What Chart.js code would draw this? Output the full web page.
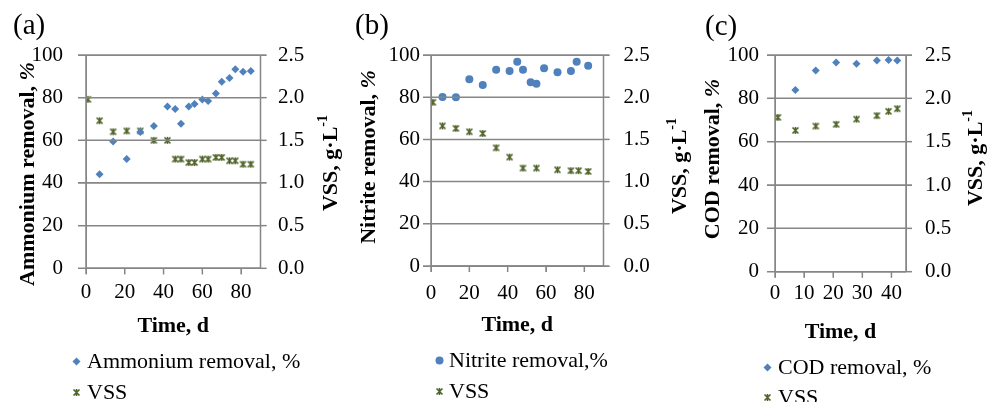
<!DOCTYPE html>
<html>
<head>
<meta charset="utf-8">
<script src="https://cdn.jsdelivr.net/npm/chart.js@4.4.1/dist/chart.umd.min.js"></script>
<style>
  html, body { margin: 0; padding: 0; background: #fff; }
  body { width: 994px; height: 402px; overflow: hidden; position: relative; }
  .chart { position: absolute; top: 0; }
  .lbl { position: absolute; font-family: 'Liberation Serif', 'Times New Roman', serif; color: #000; white-space: nowrap; line-height: 1; }
  .panel { font-size: 29px; }
  .leg { font-size: 22px; line-height: 22px; }
  .mk { position: absolute; }
</style>
</head>
<body>
<canvas id="chartA" class="chart" style="left:0px" width="345" height="402"></canvas>
<canvas id="chartB" class="chart" style="left:345px" width="355" height="402"></canvas>
<canvas id="chartC" class="chart" style="left:700px" width="294" height="402"></canvas>

<div class="lbl panel" style="left:13px; top:10px;">(a)</div>
<div class="lbl panel" style="left:355px; top:10px;">(b)</div>
<div class="lbl panel" style="left:705px; top:11px;">(c)</div>

<div id="legends"></div>

<script>
// (a) ammonium
const ammDays = [7, 14, 21, 28, 35, 42, 46, 49, 53, 56, 60, 63, 67, 70, 74, 77, 81, 85];
const ammRemoval = [44.1, 59.4, 51.3, 63.9, 66.7, 75.8, 74.7, 67.8, 75.8, 77.0, 79.1, 78.4, 82.0, 87.5, 89.2, 93.3, 92.2, 92.5];
const vssADays = [1, 7, 14, 21, 28, 35, 42, 46, 49, 53, 56, 60, 63, 67, 70, 74, 77, 81, 85];
const vssA = [1.98, 1.73, 1.60, 1.61, 1.61, 1.50, 1.50, 1.28, 1.28, 1.24, 1.24, 1.28, 1.28, 1.30, 1.30, 1.26, 1.26, 1.22, 1.22];

// (b) nitrite
const nitDays = [6, 13, 20, 27, 34, 41, 45, 48, 52, 55, 59, 66, 73, 76, 82];
const nitRemoval = [80.1, 80.0, 88.5, 85.8, 93.0, 92.4, 96.8, 93.0, 87.1, 86.4, 93.7, 91.8, 92.4, 96.8, 94.9];
const vssBDays = [1, 6, 13, 20, 27, 34, 41, 48, 55, 66, 73, 77, 82];
const vssB = [1.94, 1.66, 1.63, 1.59, 1.57, 1.40, 1.29, 1.16, 1.16, 1.14, 1.13, 1.13, 1.12];

// (c) COD
const codDays = [7, 14, 21, 28, 35, 39, 42];
const codRemoval = [83.8, 92.8, 96.5, 96.0, 97.5, 97.7, 97.5];
const vssCDays = [1, 7, 14, 21, 28, 35, 39, 42];
const vssC = [1.78, 1.63, 1.68, 1.70, 1.76, 1.80, 1.85, 1.88];

const blue = '#4F81BD';
const olive = '#4F6228';
const gridGrey = '#868686';
const serif = "'Liberation Serif', 'Times New Roman', serif";

Chart.defaults.font.family = serif;
Chart.defaults.color = '#000';

// small marker images (excel "star" is an X plus a vertical stroke)
function makeMarker(kind) {
  const c = document.createElement('canvas');
  c.width = 9; c.height = 9;
  const g = c.getContext('2d');
  if (kind === 'star') {
    g.strokeStyle = olive;
    g.lineWidth = 1.6;
    g.beginPath();
    g.moveTo(1.5, 1.5); g.lineTo(7.5, 7.5);
    g.moveTo(7.5, 1.5); g.lineTo(1.5, 7.5);
    g.moveTo(4.5, 1); g.lineTo(4.5, 8);
    g.stroke();
  } else if (kind === 'diamond') {
    g.fillStyle = blue;
    g.beginPath();
    g.moveTo(4.5, 0.5); g.lineTo(8.5, 4.5); g.lineTo(4.5, 8.5); g.lineTo(0.5, 4.5);
    g.closePath();
    g.fill();
  } else {
    g.fillStyle = blue;
    g.beginPath();
    g.arc(4.5, 4.5, 4, 0, Math.PI * 2);
    g.fill();
  }
  return c;
}

const removalTitle = name => [
  { t: name + ' removal, ', font: 'bold 22px ' + serif },
  { t: '%', font: 'italic bold 22px ' + serif }
];
const vssTitle = [
  { t: 'VSS, g·L', font: 'bold 22px ' + serif },
  { t: '-1', font: 'bold 14px ' + serif, dy: -8 }
];

// y titles read bottom-to-top on both sides, as in the original
function sideTitles(items, offset) {
  return {
    id: 'sideTitles',
    afterDraw(chart) {
      const ctx = chart.ctx;
      items.forEach(it => {
        ctx.save();
        ctx.translate(it.x - offset, it.y);
        ctx.rotate(-Math.PI / 2);
        ctx.fillStyle = '#000';
        ctx.textBaseline = 'middle';
        ctx.textAlign = 'left';
        const widths = it.segs.map(s => { ctx.font = s.font; return ctx.measureText(s.t).width; });
        let x = -widths.reduce((a, b) => a + b, 0) / 2;
        it.segs.forEach((s, i) => {
          ctx.font = s.font;
          ctx.fillText(s.t, x, s.dy || 0);
          x += widths[i];
        });
        ctx.restore();
      });
    }
  };
}

// axis lines, gridlines and tick marks, placed from the chart's own scales
function drawFrame(ch) {
  const ctx = ch.ctx;
  const a = ch.chartArea;
  const sx = ch.scales.x, sy = ch.scales.y, sy1 = ch.scales.y1;
  ctx.save();
  ctx.strokeStyle = gridGrey;
  ctx.lineWidth = 1.5;
  sy.ticks.forEach(t => {
    const py = sy.getPixelForValue(t.value);
    ctx.beginPath(); ctx.moveTo(a.left - 8, py); ctx.lineTo(a.right, py); ctx.stroke();
  });
  sy1.ticks.forEach(t => {
    const py = sy1.getPixelForValue(t.value);
    ctx.beginPath(); ctx.moveTo(a.right, py); ctx.lineTo(a.right + 6, py); ctx.stroke();
  });
  sx.ticks.forEach(t => {
    const px = sx.getPixelForValue(t.value);
    ctx.beginPath(); ctx.moveTo(px, a.bottom); ctx.lineTo(px, a.bottom + 6); ctx.stroke();
  });
  ctx.beginPath(); ctx.moveTo(a.left, a.top); ctx.lineTo(a.left, a.bottom); ctx.stroke();
  ctx.beginPath(); ctx.moveTo(a.right, a.top); ctx.lineTo(a.right, a.bottom); ctx.stroke();
  ctx.beginPath(); ctx.moveTo(a.left, a.bottom); ctx.lineTo(a.right, a.bottom); ctx.stroke();
  ctx.restore();
}

function pts(xs, ys) {
  return xs.map((x, i) => ({ x: x, y: ys[i] }));
}

function makePanel(id, p) {
  return new Chart(document.getElementById(id), {
    type: 'scatter',
    data: {
      datasets: [{
        label: p.label,
        data: pts(p.days, p.values),
        pointStyle: p.style,
        pointRadius: 4,
        borderWidth: 0,
        backgroundColor: blue,
        borderColor: blue,
        yAxisID: 'y'
      }, {
        label: 'VSS',
        data: pts(p.vssDays, p.vss),
        pointStyle: makeMarker('star'),
        backgroundColor: olive,
        borderColor: olive,
        borderWidth: 0,
        yAxisID: 'y1'
      }]
    },
    options: {
      responsive: false,
      animation: false,
      events: [],
      layout: { padding: { left: 0, right: 0, top: 55, bottom: 0 } },
      plugins: { tooltip: { enabled: false }, legend: { display: false } },
      scales: {
        x: {
          type: 'linear',
          position: 'bottom',
          min: 0,
          max: p.xMax,
          border: { color: gridGrey },
          grid: { drawOnChartArea: false, color: gridGrey, tickLength: 6 },
          ticks: { stepSize: p.xStep, includeBounds: false, padding: p.xPad, font: { size: 21 }, maxRotation: 0 },
          title: { display: true, text: 'Time, d', font: { size: 22, weight: 'bold' }, padding: { top: 0, bottom: p.xTitlePad } },
          afterFit: s => { s.height = 402 - p.bottom; }
        },
        y: {
          position: 'left',
          min: 0,
          max: 100,
          border: { color: gridGrey },
          grid: { color: gridGrey, tickLength: 8 },
          ticks: { stepSize: 20, padding: p.yPad, font: { size: 21 } },
          afterFit: s => { s.width = p.left - p.cl; }
        },
        y1: {
          position: 'right',
          min: 0,
          max: 2.5,
          border: { color: gridGrey },
          grid: { drawOnChartArea: false, color: gridGrey, tickLength: 6 },
          ticks: { stepSize: 0.5, padding: p.y1Pad, font: { size: 21 }, callback: v => v.toFixed(1) },
          afterFit: s => { s.width = p.cl + p.cw - p.right; }
        }
      }
    },
    plugins: [sideTitles(p.titles, p.cl)]
  });
}

const charts = [
  makePanel('chartA', {
    label: 'Ammonium removal, %', days: ammDays, values: ammRemoval, style: 'rectRot',
    vssDays: vssADays, vss: vssA, xMax: 90, xStep: 20,
    cl: 0, cw: 345, left: 86, right: 260.5, bottom: 268.3,
    xPad: 6, xTitlePad: 62.8, yPad: 15, y1Pad: 11.5,
    titles: [{ x: 28, y: 174, segs: removalTitle('Ammonium') }, { x: 331, y: 163, segs: vssTitle }]
  }),
  makePanel('chartB', {
    label: 'Nitrite removal,%', days: nitDays, values: nitRemoval, style: 'circle',
    vssDays: vssBDays, vss: vssB, xMax: 90, xStep: 20,
    cl: 345, cw: 355, left: 431, right: 603.5, bottom: 266,
    xPad: 8.5, xTitlePad: 63.8, yPad: 3, y1Pad: 14,
    titles: [{ x: 369, y: 157, segs: removalTitle('Nitrite') }, { x: 680, y: 166, segs: vssTitle }]
  }),
  makePanel('chartC', {
    label: 'COD removal, %', days: codDays, values: codRemoval, style: 'rectRot',
    vssDays: vssCDays, vss: vssC, xMax: 45, xStep: 10,
    cl: 700, cw: 294, left: 775, right: 906, bottom: 271.7,
    xPad: 3, xTitlePad: 56.8, yPad: 8, y1Pad: 13,
    titles: [{ x: 713, y: 159, segs: removalTitle('COD') }, { x: 976, y: 158, segs: vssTitle }]
  })
];
charts.forEach(drawFrame);

// legends, one entry per row
const legendRows = [
  { text: 'Ammonium removal, %', marker: 'diamond', mx: 76, tx: 87, cy: 361 },
  { text: 'VSS', marker: 'star', mx: 76, tx: 87, cy: 392 },
  { text: 'Nitrite removal,%', marker: 'circle', mx: 439, tx: 449, cy: 360 },
  { text: 'VSS', marker: 'star', mx: 439, tx: 449, cy: 391 },
  { text: 'COD removal, %', marker: 'diamond', mx: 767, tx: 778, cy: 367 },
  { text: 'VSS', marker: 'star', mx: 767, tx: 778, cy: 397 }
];

const host = document.getElementById('legends');
legendRows.forEach(r => {
  const mk = makeMarker(r.marker);
  mk.className = 'mk';
  mk.style.left = (r.mx - 4.5) + 'px';
  mk.style.top = (r.cy - 4.5) + 'px';
  host.appendChild(mk);
  const t = document.createElement('div');
  t.className = 'lbl leg';
  t.style.left = r.tx + 'px';
  t.style.top = (r.cy - 11) + 'px';
  t.textContent = r.text;
  host.appendChild(t);
});
</script>
</body>
</html>
